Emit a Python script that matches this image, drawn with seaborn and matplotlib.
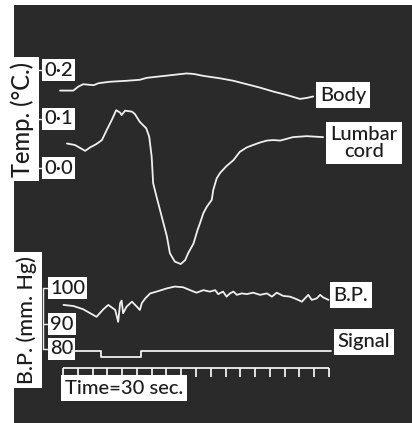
import matplotlib
matplotlib.use("Agg")
import matplotlib.pyplot as plt
import seaborn as sns
import numpy as np

# --- data (time in seconds from the first time mark) ---
time_marks = np.arange(0, 541, 30)

body_t = [-6, 21, 31, 41, 62, 72, 95, 129, 156, 170, 197, 224, 251, 265,
          285, 319, 346, 373, 400, 427, 454, 481, 495, 508]
body_temp = [0.158, 0.158, 0.166, 0.171, 0.169, 0.173, 0.176, 0.178, 0.180,
             0.184, 0.187, 0.190, 0.193, 0.192, 0.188, 0.183, 0.178, 0.171,
             0.164, 0.156, 0.149, 0.141, 0.143, 0.146]

cord_t = [8, 24, 45, 55, 68, 79, 89, 99, 108, 116, 119, 126, 140, 146, 156,
          169, 175, 180, 183, 190, 197, 204, 211, 217, 227, 239, 248, 254,
          265, 273, 278, 285, 292, 302, 305, 312, 319, 332, 346, 359, 373,
          386, 400, 414, 427, 441, 467, 495, 528]
cord_temp = [0.050, 0.047, 0.035, 0.042, 0.049, 0.057, 0.078, 0.098, 0.118,
             0.113, 0.108, 0.117, 0.115, 0.110, 0.094, 0.081, 0.064, 0.023,
             -0.031, -0.059, -0.086, -0.113, -0.140, -0.174, -0.191, -0.196,
             -0.188, -0.174, -0.154, -0.127, -0.113, -0.092, -0.079, -0.065,
             -0.045, -0.021, -0.010, 0.004, 0.016, 0.033, 0.042, 0.047, 0.052,
             0.056, 0.057, 0.056, 0.063, 0.065, 0.063]

bp_t = [1, 21, 41, 68, 82, 92, 106, 112, 116, 119, 122, 129, 140, 150, 156,
        160, 167, 177, 190, 211, 227, 244, 258, 271, 285, 298, 309, 315, 325,
        332, 339, 346, 353, 363, 373, 386, 400, 414, 424, 434, 447, 461, 474,
        485, 491, 498, 505, 515, 522, 528, 539]
bp_mmhg = [95.3, 95.0, 94.1, 92.0, 94.1, 95.3, 93.9, 90.6, 95.8, 96.5, 93.0,
           94.8, 96.2, 94.8, 93.9, 95.8, 97.1, 98.5, 99.0, 99.9, 100.4, 100.2,
           99.4, 98.7, 99.4, 99.0, 99.4, 98.3, 99.0, 97.6, 98.5, 99.0, 98.1,
           98.5, 98.3, 98.7, 98.1, 98.5, 97.6, 98.7, 97.8, 97.6, 96.9, 96.2,
           97.1, 98.1, 96.7, 97.1, 98.1, 97.4, 96.7]

signal_t = [18, 77, 77, 158, 158, 545]
signal_on = [0, 0, 1, 1, 0, 0]

temp_ticks = [0.0, 0.1, 0.2]
bp_ticks = [80, 90, 100]
bp_ticks_h = [0, 25, 61]   # manometer calibration (non-linear), px above the 80 mark

# --- style ---
W, H = 412, 423
BG = "#2a2a2a"
TRACE = "#f0f0f0"
INK = "#1c1c1c"
PX_PER_S = 266 / 540
T0_PX = 63

sns.set_style("white")
plt.rcParams["font.family"] = ["Lato", "DejaVu Sans"]
plt.rcParams["font.size"] = 14.5
plt.rcParams["font.weight"] = "medium"


def fx(px):
    return px / W


def fy(py):
    return 1 - py / H


box = dict(boxstyle="square,pad=0.1", fc="white", ec="none")
label_box = dict(boxstyle="square,pad=0.2", fc="white", ec="none")

fig = plt.figure(figsize=(W / 100, H / 100), dpi=100, facecolor="white")

# dark photographic ground
bg = fig.add_axes([fx(14), 0, 1 - fx(14), fy(5)])
bg.set_facecolor(BG)
bg.set_xticks([])
bg.set_yticks([])
for s in bg.spines.values():
    s.set_visible(False)

xlim = (-T0_PX / PX_PER_S, (W - T0_PX) / PX_PER_S)


def panel(top_px, bottom_px):
    ax = fig.add_axes([0, fy(bottom_px), 1, (bottom_px - top_px) / H])
    ax.axis("off")
    return ax


# temperature traces
ax_t = panel(70, 168)
sns.lineplot(x=body_t, y=body_temp, ax=ax_t, color=TRACE, lw=1.3)
sns.lineplot(x=cord_t, y=cord_temp, ax=ax_t, color=TRACE, lw=1.3)
ax_t.set_xlim(xlim)
ax_t.set_ylim(0, 0.2)
tr = ax_t.get_yaxis_transform()
ax_t.plot([fx(35)] * 2, [temp_ticks[0], temp_ticks[-1]], transform=tr, color=TRACE, lw=1)
ax_t.hlines(temp_ticks, fx(35), fx(43), transform=tr, color=TRACE, lw=1)
for v in temp_ticks:
    ax_t.text(fx(44), v, f"{v:.1f}".replace(".", "·"), transform=tr,
              ha="left", va="center", color=INK, bbox=box)

# blood pressure
ax_bp = panel(288, 349)
sns.lineplot(x=bp_t, y=bp_mmhg, ax=ax_bp, color=TRACE, lw=1.3)
ext_v = [40] + bp_ticks + [160]
ext_h = [-100] + bp_ticks_h + [61 + 216]
ax_bp.set_yscale("function", functions=(lambda v: np.interp(v, ext_v, ext_h),
                                        lambda h: np.interp(h, ext_h, ext_v)))
ax_bp.set_xlim(xlim)
ax_bp.set_ylim(bp_ticks[0], bp_ticks[-1])
tr = ax_bp.get_yaxis_transform()
ax_bp.plot([fx(43)] * 2, [bp_ticks[0], bp_ticks[-1]], transform=tr, color=TRACE, lw=1)
ax_bp.hlines(bp_ticks, fx(43), fx(50), transform=tr, color=TRACE, lw=1)
for v in bp_ticks:
    ax_bp.text(fx(50), v, str(v), transform=tr, ha="left", va="center",
               color=INK, bbox=box)

# stimulus signal
ax_s = panel(351, 357)
sns.lineplot(x=signal_t, y=signal_on, ax=ax_s, color=TRACE, lw=1.3,
             estimator=None, sort=False)
ax_s.set_xlim(xlim)
ax_s.set_ylim(1, 0)

# time marker
ax_m = panel(368, 377)
ax_m.hlines(0, time_marks[0], time_marks[-1], color=TRACE, lw=1.3)
ax_m.vlines(time_marks, 0, 1, color=TRACE, lw=1.3)
ax_m.set_xlim(xlim)
ax_m.set_ylim(1, 0)

for ax in (ax_t, ax_bp, ax_s, ax_m):
    for ln in ax.lines + ax.collections:
        ln.set_clip_on(False)

# labels
fig.text(fx(343), fy(95), "Body", ha="center", va="center", color=INK, bbox=label_box)
fig.text(fx(364), fy(143), "Lumbar\ncord", ha="center", va="center", color=INK,
         linespacing=1.0, bbox=label_box)
fig.text(fx(351), fy(295), "B.P.", ha="center", va="center", color=INK, bbox=label_box)
fig.text(fx(364), fy(342), "Signal", ha="center", va="center", color=INK, bbox=label_box)
fig.text(fx(124), fy(388), "Time=30 sec.", ha="center", va="center", color=INK,
         bbox=label_box)
fig.text(fx(22), fy(119), "Temp. (°C.)", rotation=90, ha="center", va="center",
         color=INK, fontsize=17, bbox=label_box)
fig.text(fx(27), fy(320), "B.P. (mm. Hg)", rotation=90, ha="center", va="center",
         color=INK, fontsize=15.5, bbox=label_box)

fig.savefig("out.png", dpi=100, facecolor="white")
